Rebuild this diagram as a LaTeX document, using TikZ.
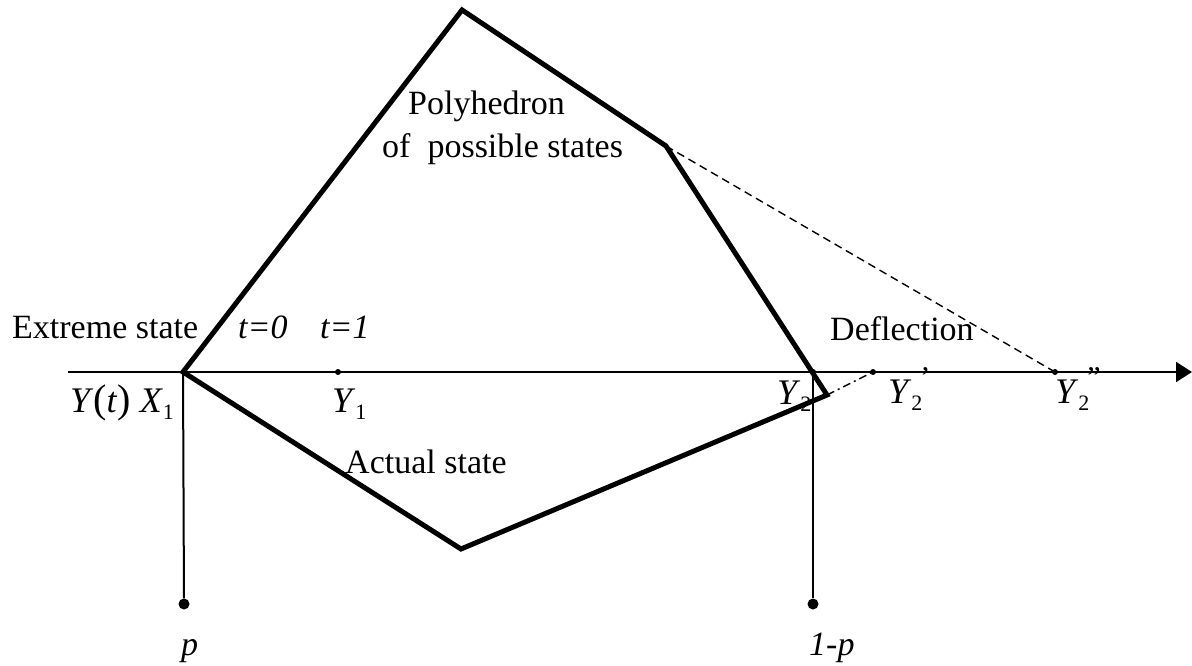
\documentclass[tikz,border=0pt]{standalone}
\usepackage{fontspec}
\setmainfont{Liberation Serif}
\usetikzlibrary{arrows.meta}
\newcommand{\lowsub}[1]{\raisebox{-7pt}{\fontsize{22}{22}\selectfont #1}}
\newcommand{\upmark}[1]{\raisebox{16pt}{\fontsize{30}{30}\selectfont #1}}
\newcommand{\bigpar}[1]{{\fontsize{40}{40}\selectfont #1}}
\begin{document}
\begin{tikzpicture}[x=1pt,y=-1pt,
  polyedge/.style={line width=5pt, line join=miter, miter limit=4},
  axisline/.style={line width=2pt},
  dotmark/.style={circle, fill, inner sep=0pt, minimum size=6pt},
  bigdot/.style={circle, fill, inner sep=0pt, minimum size=11pt},
  lbl/.style={font=\fontsize{34}{38}\selectfont, inner sep=0pt},
  mlbl/.style={font=\fontsize{36}{40}\selectfont, inner sep=0pt},
  dashline/.style={line width=1.4pt, dash pattern=on 8pt off 5pt},
  dotdashline/.style={line width=1.4pt, dash pattern=on 8pt off 4pt on 2pt off 4pt}]
\useasboundingbox (0,0) rectangle (1192,666);
% coordinates
\coordinate (A) at (68,372);
\coordinate (E) at (1192,372);
\coordinate (X1) at (183,372);
\coordinate (T) at (462,10);
\coordinate (R) at (666,146);
\coordinate (C) at (827,395);
\coordinate (B) at (461,549);
\node[dotmark] (Y1) at (338,372) {};
\node[dotmark] (Y2) at (813,372) {};
\node[dotmark] (Y2a) at (873,372) {};
\node[dotmark] (Y2b) at (1055,372) {};
\node[bigdot] (P) at (184,604) {};
\node[bigdot] (Q) at (813,604) {};
% axis
\draw[axisline, -{Triangle[length=16pt,width=20pt]}] (A) -- (E);
% verticals
\draw[axisline] (X1) -- (P);
\draw[axisline] (Y2) -- (Q);
% dashed lines
\draw[dashline] (R) -- (Y2b.center);
\draw[dotdashline] (C) -- (Y2a.center);
% polygon
\draw[polyedge] (X1) -- (T) -- (R) -- (C) -- (B) -- cycle;
% labels
\node[lbl, anchor=base west] (ext) at (12,338) {Extreme state};
\node[lbl, anchor=base west] (t0) at (238,338) {\textit{t=0}};
\node[lbl, anchor=base west] (t1) at (320,338) {\textit{t=1}};
\node[lbl, anchor=base west] (defl) at (830,340) {Deflection};
\node[lbl, anchor=base west] (poly1) at (408,115) {Polyhedron};
\node[lbl, anchor=base west] (poly2) at (382,158) {of\ \ possible states};
\node[lbl, anchor=base west] (act) at (345,473) {Actual state};
\node[mlbl, anchor=base west] (yt) at (70,412) {\textit{Y}\bigpar{(}\textit{t}\bigpar{)}\ \textit{X}\lowsub{1}};
\node[mlbl, anchor=base west] (y1) at (332,412) {\textit{Y}\lowsub{1}};
\node[mlbl, anchor=base west] (y2) at (777,404) {\textit{Y}\lowsub{2}};
\node[mlbl, anchor=base west] (y2a) at (888,403) {\textit{Y}\lowsub{2}\kern-2pt\upmark{’}};
\node[mlbl, anchor=base west] (y2b) at (1055,403) {\textit{Y}\lowsub{2}\kern-2pt\upmark{”}};
\node[lbl, anchor=base west] (p) at (181,655) {\textit{p}};
\node[lbl, anchor=base west] (q) at (809,655) {\textit{1-p}};
\end{tikzpicture}
\end{document}
